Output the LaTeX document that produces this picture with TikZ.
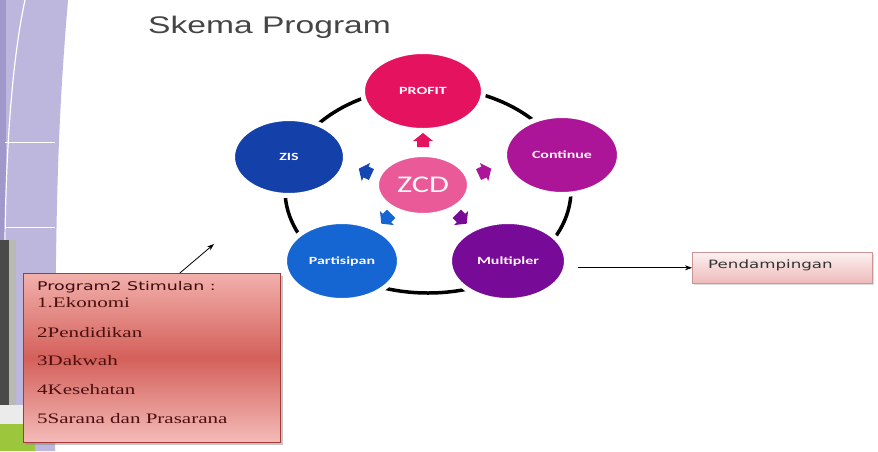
\documentclass[tikz,border=0pt]{standalone}
\usepackage{fontspec}
\setmainfont{Liberation Serif}
\newfontfamily\arialf{Liberation Sans}
\newfontfamily\calf{Carlito}
\newfontfamily\verdf{DejaVu Sans}
\usetikzlibrary{shapes.geometric,arrows.meta,shadows}
\definecolor{lav}{HTML}{BDB6DD}
\definecolor{lavd}{HTML}{A097CB}
\definecolor{cprofit}{HTML}{E5135F}
\definecolor{czcd}{HTML}{EA5A98}
\definecolor{ccont}{HTML}{AC1597}
\definecolor{cmult}{HTML}{770B97}
\definecolor{cpart}{HTML}{1565D3}
\definecolor{czis}{HTML}{1440AA}
\definecolor{titlegray}{HTML}{454545}
\definecolor{boxl}{HTML}{F2B0AC}
\definecolor{boxd}{HTML}{D4605A}
\definecolor{boxb}{HTML}{A33A36}
\definecolor{itemc}{HTML}{4A1010}
\definecolor{pendt}{HTML}{FDF1F1}
\definecolor{pendb}{HTML}{EEBABA}
\definecolor{pendd}{HTML}{C99595}
\definecolor{photod}{HTML}{4A4A48}
\definecolor{photol}{HTML}{B8B8B4}
\definecolor{grn}{HTML}{9CC63C}
\newcommand\zarr[4]{\fill[#4,shift={(#1,#2)},rotate=#3] (-6,-6) -- (0,-6) -- (0,-10) -- (8,0) -- (0,10) -- (0,6) -- (-6,6) -- cycle;}
\newcommand\ctext[1]{\scalebox{1.45}[1]{\calf\bfseries\fontsize{11}{13}\selectfont #1}}
\begin{document}
\begin{tikzpicture}[x=1pt,y=-1pt,
  circ/.style={ellipse, inner sep=0pt, draw=white, line width=5pt, fill=#1},
  ctxt/.style={text=white!88!pink},
  itemtxt/.style={anchor=base west, inner sep=0pt, text=itemc},
  progbox/.style={rectangle, draw=boxb, line width=0.8pt, top color=boxl, bottom color=boxl!85!white, middle color=boxd,
    drop shadow={shadow xshift=3pt, shadow yshift=-3pt, fill=black!45}},
  pendbox/.style={rectangle, draw=pendd, line width=0.6pt, top color=pendt, bottom color=pendb,
    drop shadow={shadow xshift=2pt, shadow yshift=-2pt, fill=black!25}},
  conn/.style={line width=0.8pt, -{Stealth[length=7pt,width=5pt]}}]
\useasboundingbox (0,0) rectangle (878,451);
\fill[white] (0,0) rectangle (878,451);
% left decoration
\fill[lav] (0,0) -- (68,0) .. controls (58,120) and (55,200) .. (55,451) -- (0,451) -- cycle;
\fill[lavd] (0,0) rectangle (6,240);
\draw[white, line width=1.2pt] (25,0) .. controls (12,60) and (6,150) .. (5,240);
\draw[white, line width=0.8pt] (5,142) -- (55,142);
\draw[white, line width=0.8pt] (5,227) -- (55,227);
\fill[photod] (0,240) rectangle (9,405);
\fill[photol] (9,240) rectangle (16,405);
\fill[black!8] (0,405) rectangle (30,424);
\fill[grn] (0,424) rectangle (35,451);
% title
\node[anchor=base west, inner sep=0pt, text=titlegray] (title) at (148,33) {\scalebox{1.4}[1]{\arialf\fontsize{24}{28}\selectfont Skema Program}};
% ring
\draw[line width=3.5pt] (428,190) ellipse [x radius=143, y radius=103];
% circles
\node[circ=cprofit, minimum width=121pt, minimum height=79pt, ctxt] (profit) at (423,91) {\ctext{PROFIT}};
\node[circ=czis, minimum width=113pt, minimum height=77pt, ctxt] (zis) at (289,157) {\ctext{ZIS}};
\node[circ=ccont, minimum width=115pt, minimum height=79pt, ctxt] (cont) at (562,155) {\ctext{Continue}};
\node[circ=cpart, minimum width=115pt, minimum height=79pt, ctxt] (part) at (342,261) {\ctext{Partisipan}};
\node[circ=cmult, minimum width=117pt, minimum height=79pt, ctxt] (mult) at (508,261) {\ctext{Multipler}};
\node[circ=czcd, minimum width=93pt, minimum height=61pt, text=white!85!pink] (zcd) at (423,185) {\scalebox{1.35}[1]{\calf\fontsize{24}{28}\selectfont ZCD}};
% small arrows
\zarr{423}{141}{90}{cprofit}
\zarr{366}{172}{155}{czis!80!cpart}
\zarr{484}{172}{25}{ccont}
\zarr{387}{218}{225}{cpart}
\zarr{461}{218}{315}{cmult}
% program box
\node[progbox, minimum width=257pt, minimum height=169pt, anchor=north west] (prog) at (23,273) {};
\node[itemtxt, text=itemc!80!black] (p0) at (37,290) {\scalebox{1.45}[1]{\verdf\fontsize{12}{14}\selectfont Program2 Stimulan :}};
\node[itemtxt] (p1) at (37,307) {\scalebox{1.45}[1]{\fontsize{14.5}{16}\selectfont 1.Ekonomi}};
\node[itemtxt] (p2) at (37,337) {\scalebox{1.45}[1]{\fontsize{14.5}{16}\selectfont 2Pendidikan}};
\node[itemtxt] (p3) at (37,365) {\scalebox{1.45}[1]{\fontsize{14.5}{16}\selectfont 3Dakwah}};
\node[itemtxt] (p4) at (37,394) {\scalebox{1.45}[1]{\fontsize{14.5}{16}\selectfont 4Kesehatan}};
\node[itemtxt] (p5) at (37,423) {\scalebox{1.45}[1]{\fontsize{14.5}{16}\selectfont 5Sarana dan Prasarana}};
\coordinate (ztgt) at (214,244);
\draw[conn] ([xshift=28pt]prog.north) -- (ztgt);
% pendampingan
\node[pendbox, minimum width=180pt, minimum height=31pt, anchor=north west] (pend) at (692,252) {};
\node[anchor=base west, inner sep=0pt, text=black!80] (pendt) at (708,268) {\scalebox{1.45}[1]{\verdf\fontsize{11.5}{13}\selectfont Pendampingan}};
\draw[conn, line width=0.7pt, shorten <=9pt] (mult.east |- pend.west) -- (pend.west);
\end{tikzpicture}
\end{document}
